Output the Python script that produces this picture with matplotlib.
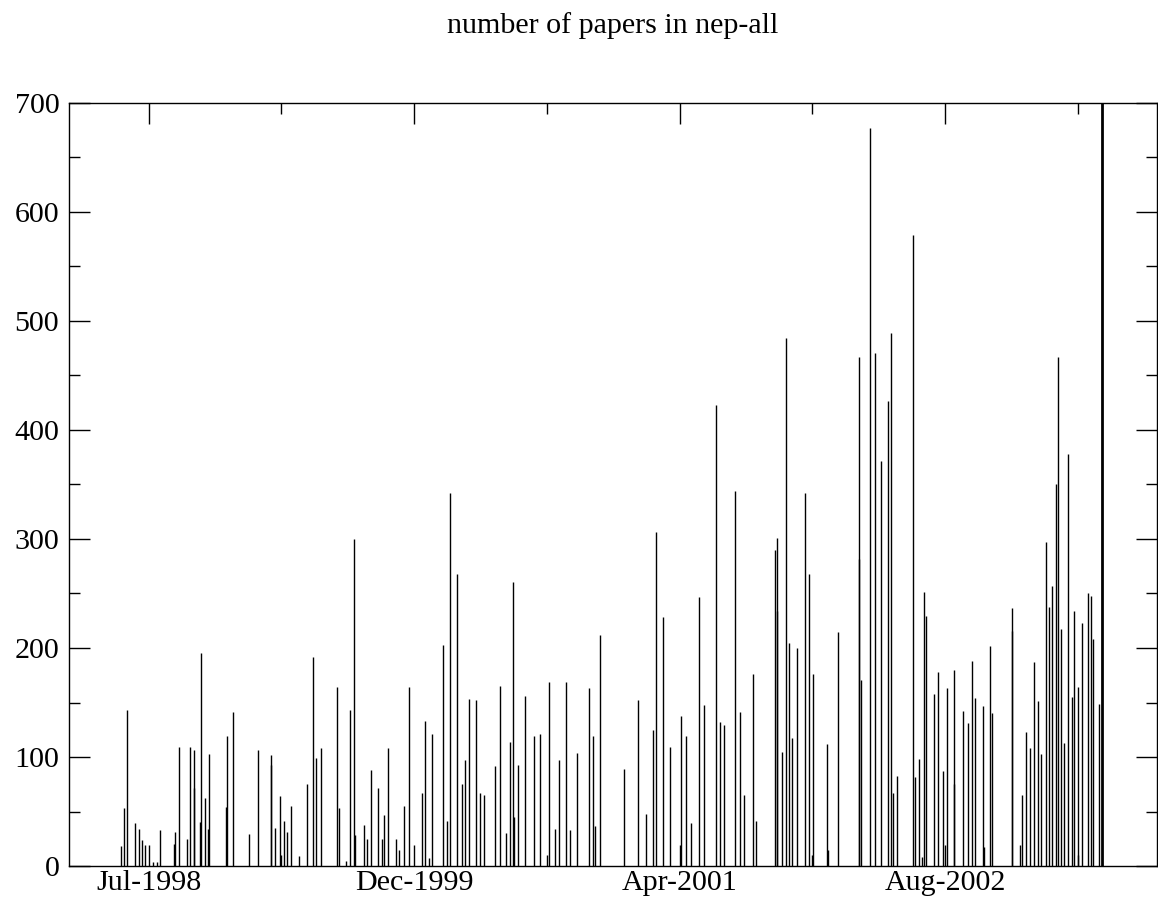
import matplotlib
matplotlib.use("Agg")
import matplotlib.pyplot as plt
from matplotlib.ticker import MultipleLocator, FixedLocator

plt.rcParams['font.family'] = ['Liberation Serif', 'DejaVu Serif']

# days counted from the Jul-1998 tick, and number of papers in each issue
days = [-53, -47, -40, -26, -18, -13, -6, 9, 16, 22, 47, 49, 57, 73, 78, 86, 85,
        98, 97, 106, 113, 112, 145, 147, 159, 188, 205, 231, 230, 238, 247, 254,
        260, 268, 284, 298, 309, 316, 325, 354, 358, 372, 379, 387, 389, 405, 411,
        419, 431, 439, 443, 451, 465, 472, 481, 491, 515, 521, 527, 534, 554, 561,
        568, 581, 590, 595, 603, 616, 624, 631, 652, 661, 673, 681, 686, 688, 695,
        708, 725, 737, 754, 765, 772, 786, 793, 806, 829, 836, 841, 850, 895, 921,
        937, 949, 955, 968, 982, 1003, 1012, 1021, 1037, 1046, 1069, 1075, 1083,
        1105, 1114, 1122, 1138, 1144, 1179, 1183, 1184, 1192, 1200, 1206, 1212,
        1220, 1236, 1244, 1251, 1278, 1280, 1298, 1337, 1338, 1342, 1359, 1368,
        1380, 1392, 1398, 1402, 1409, 1440, 1444, 1451, 1457, 1460, 1464, 1479,
        1487, 1495, 1503, 1517, 1516, 1534, 1542, 1551, 1557, 1571, 1574, 1585,
        1589, 1626, 1625, 1640, 1645, 1653, 1660, 1667, 1675, 1681, 1690, 1696,
        1702, 1709, 1712, 1719, 1724, 1732, 1739, 1743, 1750, 1757, 1768, 1775,
        1778, 1790]
papers = [18, 53, 143, 39, 34, 24, 19, 4, 4, 33, 20, 31, 109, 25, 109, 106, 72,
          195, 40, 62, 103, 34, 54, 119, 141, 29, 106, 102, 93, 35, 64, 41,
          31, 55, 9, 75, 192, 99, 108, 164, 53, 5, 143, 300, 28, 38, 25,
          88, 72, 25, 47, 108, 25, 15, 55, 164, 67, 133, 7, 121, 203, 41,
          342, 268, 75, 97, 153, 152, 67, 65, 92, 165, 30, 114, 261, 45, 93,
          156, 119, 121, 169, 34, 97, 169, 33, 104, 163, 119, 37, 212, 89, 152,
          48, 125, 306, 228, 109, 138, 119, 39, 247, 148, 423, 132, 129,
          344, 141, 65, 176, 41, 290, 301, 234, 105, 484, 205, 117,
          200, 342, 268, 176, 112, 15, 215, 467, 282, 171, 677, 471,
          372, 427, 489, 67, 83, 579, 82, 98, 8, 251, 229, 158,
          178, 87, 163, 180, 75, 142, 131, 188, 154, 147, 17, 202,
          140, 237, 216, 19, 65, 123, 108, 187, 151, 103, 297, 238,
          257, 350, 467, 217, 113, 378, 155, 234, 164, 223, 250, 248,
          208, 149]

# last issue runs off the top of the scale
last_day = 1795
last_papers = 800

tick_days = [0, 500, 1000, 1500]
tick_labels = ["Jul-1998", "Dec-1999", "Apr-2001", "Aug-2002"]
minor_days = [250, 750, 1250, 1750]

fig = plt.figure(figsize=(11.58, 9.09), dpi=100)
ax = fig.add_axes([0.0596, 0.0473, 0.9396, 0.8394])

ax.vlines(days, 0, papers, color='black', linewidth=1.0)
ax.vlines([last_day], 0, [last_papers], color='black', linewidth=2.0)

ax.set_xlim(-150, 1899)
ax.set_ylim(0, 700)
ax.xaxis.set_major_locator(FixedLocator(tick_days))
ax.xaxis.set_minor_locator(FixedLocator(minor_days))
ax.set_xticklabels(tick_labels)
ax.yaxis.set_major_locator(MultipleLocator(100))
ax.yaxis.set_minor_locator(MultipleLocator(50))

ax.tick_params(which='both', direction='in', top=True, right=True, width=1.0,
               labelsize=21.6, color='black')
ax.tick_params(which='major', length=15)
ax.tick_params(which='minor', length=8)
ax.tick_params(axis='x', pad=3)
ax.tick_params(axis='y', pad=7)
for s in ax.spines.values():
    s.set_linewidth(1.0)

ax.text(0.5, 1 + 70 / 763, "number of papers in nep-all", transform=ax.transAxes,
        ha='center', va='baseline', fontsize=21.6)

fig.savefig("out.png", dpi=100)
